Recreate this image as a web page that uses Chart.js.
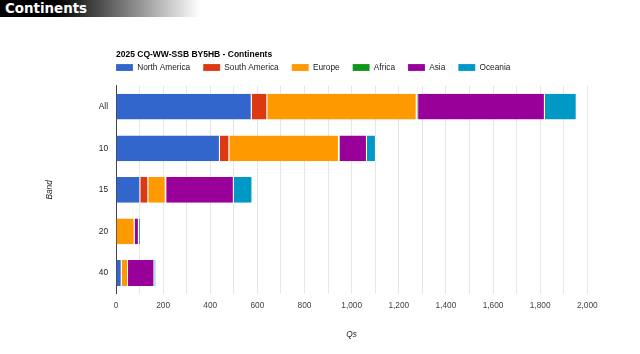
<!DOCTYPE html>
<html>
<head>
<meta charset="utf-8">
<script src="https://cdn.jsdelivr.net/npm/chart.js@4"></script>
<style>
  html, body { margin: 0; padding: 0; background: #fff; }
  #wrap { position: relative; width: 640px; height: 354px; }
  #hdr { position: absolute; left: 0; top: 0; width: 200px; height: 17px;
         background: linear-gradient(90deg, #000 0%, #000 28%, #fff 100%);
         color: #fff; font-family: "DejaVu Sans", Verdana, sans-serif; font-weight: bold;
         font-size: 13.4px; line-height: 17px; padding-left: 5px; box-sizing: border-box; }
  canvas { position: absolute; left: 0; top: 0; }
</style>
</head>
<body>
<div id="wrap">
  <canvas id="c" width="640" height="354"></canvas>
  <div id="hdr">Continents</div>
</div>
<script>
const categories = ["All", "10", "15", "20", "40"];
const seriesNames = ["North America", "South America", "Europe", "Africa", "Asia", "Oceania"];
const northAmerica = [576, 441, 103, 0, 24];
const southAmerica = [66, 40, 34, 0, 0];
const europe = [634, 465, 74, 79, 27];
const africa = [6, 4, 2, 0, 0];
const asia = [538, 115, 287, 18, 112];
const oceania = [135, 38, 79, 8, 7];
const seriesColors = ["#3366cc", "#dc3912", "#ff9900", "#109618", "#990099", "#0099c6"];
const chartTitle = "2025 CQ-WW-SSB BY5HB - Continents";
const xTitle = "Qs";
const yTitle = "Band";

const seriesValues = [northAmerica, southAmerica, europe, africa, asia, oceania];
const FONT = "'Liberation Sans', Arial, sans-serif";

const placePlugin = {
  id: 'place',
  afterLayout(chart) {
    const ca = chart.chartArea;
    const lg = chart.legend;
    const pad = lg.options.labels.padding;
    lg.left = ca.left - pad;
    lg.top = 67.5 - pad - 4.15;
    if (chart.titleBlock) chart.titleBlock.left = ca.left;
  }
};

new Chart(document.getElementById('c'), {
  type: 'bar',
  data: {
    labels: categories,
    datasets: seriesNames.map((n, i) => ({
      label: n,
      data: seriesValues[i],
      backgroundColor: seriesColors[i],
      borderColor: 'rgba(255,255,255,0.6)',
      borderWidth: {left: 0, right: 1, top: 0, bottom: 0},
      borderSkipped: false,
      categoryPercentage: 0.62,
      barPercentage: 1.0
    }))
  },
  options: {
    indexAxis: 'y',
    responsive: false,
    animation: false,
    devicePixelRatio: 1,
    layout: { padding: { left: 0, right: 52.7, top: 0, bottom: 0 } },
    plugins: {
      title: {
        display: true, text: chartTitle, align: 'start', color: '#000',
        font: { family: FONT, size: 8.5, weight: 'bold' },
        padding: { top: 49.9, bottom: -5.5 }
      },
      legend: {
        display: true, position: 'top', align: 'start',
        labels: {
          boxWidth: 17, boxHeight: 7, padding: 13, color: '#222',
          font: { family: FONT, size: 8.3 }
        }
      },
      tooltip: { enabled: false }
    },
    scales: {
      x: {
        stacked: true, min: 0, max: 2000,
        afterFit(s) { s.height = 60.2; },
        ticks: {
          stepSize: 100, autoSkip: false, maxRotation: 0, padding: 6.5, color: '#444',
          font: { family: FONT, size: 8.3 },
          callback: (v) => (v % 200 === 0 ? v.toLocaleString('en-US') : '')
        },
        grid: { color: '#e6e6e6', drawTicks: false },
        border: { display: false },
        title: {
          display: true, text: xTitle, color: '#222',
          font: { family: FONT, size: 8.3, style: 'italic' },
          padding: { top: 0, bottom: 14 }
        }
      },
      y: {
        stacked: true,
        afterFit(s) { s.width = 116; },
        ticks: { padding: 8, color: '#222', font: { family: FONT, size: 8.3 } },
        grid: { display: true, color: 'rgba(0,0,0,0)', drawTicks: false },
        border: { display: true, color: '#444', width: 1 },
        title: {
          display: true, text: yTitle, color: '#222',
          font: { family: FONT, size: 8.3, style: 'italic' },
          padding: { top: 45, bottom: 0 }
        }
      }
    }
  },
  plugins: [placePlugin]
});
</script>
</body>
</html>
